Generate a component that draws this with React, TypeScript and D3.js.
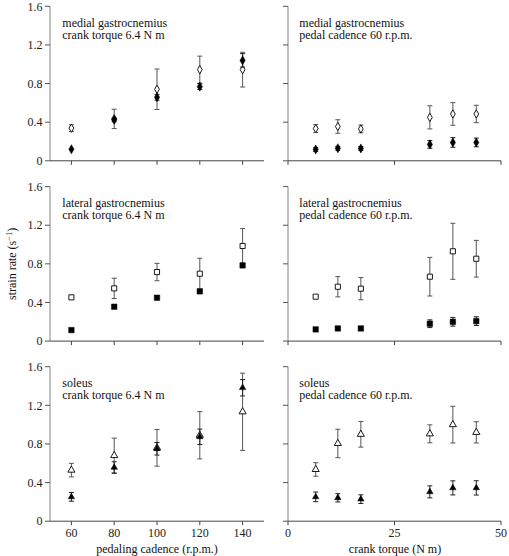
import React from "react";
import * as d3 from "d3";

// cadence panels (x: pedaling cadence, r.p.m.)
const cadence = [60, 80, 100, 120, 140];
// torque panels (x: crank torque, N m)
const torque = [6.5, 11.7, 17.1, 33.3, 38.7, 44.2];

// medial gastrocnemius
const mgCadOpen = [0.338, 0.434, 0.741, 0.944, 0.944];
const mgCadOpenErr = [0.035, 0.1, 0.21, 0.14, 0.18];
const mgCadFill = [0.12, 0.424, 0.658, 0.768, 1.04];
const mgCadFillErr = [0.0, 0.02, 0.03, 0.03, 0.07];
const mgTorOpen = [0.334, 0.355, 0.33, 0.45, 0.485, 0.485];
const mgTorOpenErr = [0.04, 0.07, 0.04, 0.12, 0.117, 0.09];
const mgTorFill = [0.117, 0.13, 0.128, 0.17, 0.19, 0.19];
const mgTorFillErr = [0.02, 0.02, 0.02, 0.04, 0.05, 0.045];

// lateral gastrocnemius
const lgCadOpen = [0.453, 0.546, 0.715, 0.698, 0.985];
const lgCadOpenErr = [0.0, 0.105, 0.09, 0.16, 0.18];
const lgCadFill = [0.114, 0.356, 0.449, 0.515, 0.784];
const lgCadFillErr = [0.0, 0.0, 0.0, 0.0, 0.0];
const lgTorOpen = [0.46, 0.563, 0.543, 0.667, 0.93, 0.853];
const lgTorOpenErr = [0.0, 0.105, 0.115, 0.2, 0.29, 0.19];
const lgTorFill = [0.121, 0.131, 0.131, 0.18, 0.2, 0.207];
const lgTorFillErr = [0.0, 0.01, 0.02, 0.04, 0.045, 0.045];

// soleus
const solCadOpen = [0.529, 0.68, 0.76, 0.89, 1.133];
const solCadOpenErr = [0.07, 0.18, 0.19, 0.245, 0.4];
const solCadFill = [0.252, 0.556, 0.75, 0.874, 1.382];
const solCadFillErr = [0.045, 0.06, 0.065, 0.08, 0.085];
const solTorOpen = [0.536, 0.805, 0.9, 0.905, 1.0, 0.92];
const solTorOpenErr = [0.07, 0.147, 0.133, 0.093, 0.19, 0.11];
const solTorFill = [0.252, 0.242, 0.228, 0.304, 0.345, 0.345];
const solTorFillErr = [0.05, 0.043, 0.045, 0.062, 0.073, 0.074];

const yTicks = [0, 0.4, 0.8, 1.2, 1.6];
const yTickLabels = ["0", "0.4", "0.8", "1.2", "1.6"];
const cadTicks = [60, 80, 100, 120, 140];
const torTicks = [0, 25, 50];

const rowTitles = ["medial gastrocnemius", "lateral gastrocnemius", "soleus"];
const leftSub = "crank torque 6.4 N m";
const rightSub = "pedal cadence 60 r.p.m.";

const FONT = "Liberation Serif, Times New Roman, Times, serif";

const xLeft = d3.scaleLinear().domain([50, 150]).range([50, 264]);
const xRight = d3.scaleLinear().domain([0, 50]).range([288, 501]);
const rowTops = [6.3, 186.6, 366.7];
const panelH = 154.5;

type Series = { vals: number[]; errs: number[]; filled: boolean };

const allSeries: Series[][][] = [
  [
    [
      { vals: mgCadOpen, errs: mgCadOpenErr, filled: false },
      { vals: mgCadFill, errs: mgCadFillErr, filled: true },
    ],
    [
      { vals: mgTorOpen, errs: mgTorOpenErr, filled: false },
      { vals: mgTorFill, errs: mgTorFillErr, filled: true },
    ],
  ],
  [
    [
      { vals: lgCadOpen, errs: lgCadOpenErr, filled: false },
      { vals: lgCadFill, errs: lgCadFillErr, filled: true },
    ],
    [
      { vals: lgTorOpen, errs: lgTorOpenErr, filled: false },
      { vals: lgTorFill, errs: lgTorFillErr, filled: true },
    ],
  ],
  [
    [
      { vals: solCadOpen, errs: solCadOpenErr, filled: false },
      { vals: solCadFill, errs: solCadFillErr, filled: true },
    ],
    [
      { vals: solTorOpen, errs: solTorOpenErr, filled: false },
      { vals: solTorFill, errs: solTorFillErr, filled: true },
    ],
  ],
];

const symbolTypes = [d3.symbolDiamond, d3.symbolSquare, d3.symbolTriangle];
const symbolSizes = [[20, 24], [26, 30], [22, 18]];

function Panel({ row, side }: { row: number; side: "left" | "right" }) {
  const x = side === "left" ? xLeft : xRight;
  const xs = side === "left" ? cadence : torque;
  const top = rowTops[row];
  const y = d3.scaleLinear().domain([0, 1.6]).range([top + panelH, top]);
  const y0 = y(0);
  const x0 = x.range()[0];
  const x1 = x.range()[1];
  const series = allSeries[row][side === "left" ? 0 : 1];
  const xticks = side === "left" ? cadTicks : torTicks;
  const isBottom = row === 2;
  const sub = side === "left" ? leftSub : rightSub;
  const tx = side === "left" ? 62.3 : 299.3;

  return (
    <g>
      <line x1={x0} x2={x0} y1={y(1.6)} y2={y0} stroke="#999" strokeWidth={1.2} />
      {yTicks.map((t, i) => (
        <g key={"yt" + i}>
          <line x1={x0 - 5} x2={x0} y1={y(t)} y2={y(t)} stroke="#555" strokeWidth={1} />
          {side === "left" && (
            <text
              x={42.5}
              y={y(t)}
              dy="0.35em"
              textAnchor="end"
              fontSize={12}
              fontFamily={FONT}
              fill="#222"
            >
              {yTickLabels[i]}
            </text>
          )}
        </g>
      ))}
      <line x1={x0} x2={x1} y1={y0} y2={y0} stroke="#444" strokeWidth={1} />
      {xticks.map((t) => (
        <g key={"xt" + t}>
          <line x1={x(t)} x2={x(t)} y1={y0} y2={y0 + 4} stroke="#444" strokeWidth={1} />
          {isBottom && (
            <text
              x={x(t)}
              y={y0 + 16}
              textAnchor="middle"
              fontSize={12}
              fontFamily={FONT}
              fill="#222"
            >
              {t}
            </text>
          )}
        </g>
      ))}
      <text x={tx} y={top + 20.3} fontSize={12} fontFamily={FONT} fill="#111">
        {rowTitles[row]}
      </text>
      <text x={tx} y={top + 32.3} fontSize={12} fontFamily={FONT} fill="#111">
        {sub}
      </text>
      {series.map((s, si) => {
        const sym = d3
          .symbol()
          .type(symbolTypes[row])
          .size(symbolSizes[row][s.filled ? 1 : 0]);
        return (
          <g key={"s" + si}>
            {s.vals.map((v, i) => {
              const cx = x(xs[i]);
              const e = s.errs[i];
              return (
                <g key={i}>
                  {e > 0 && (
                    <g stroke={s.filled ? "#222" : "#555"} strokeWidth={1}>
                      <line x1={cx} x2={cx} y1={y(v + e)} y2={y(v - e)} />
                      <line x1={cx - 2.5} x2={cx + 2.5} y1={y(v + e)} y2={y(v + e)} />
                      <line x1={cx - 2.5} x2={cx + 2.5} y1={y(v - e)} y2={y(v - e)} />
                    </g>
                  )}
                  <path
                    d={sym() || ""}
                    transform={`translate(${cx},${y(v)})`}
                    fill={s.filled ? "#000" : "#fff"}
                    stroke="#000"
                    strokeWidth={s.filled ? 0.5 : 0.9}
                  />
                </g>
              );
            })}
          </g>
        );
      })}
    </g>
  );
}

export default function App() {
  const midY = rowTops[1] + panelH / 2;
  return (
    <div style={{ position: "absolute", left: 0, top: 0 }}>
      <svg width={509} height={556} style={{ display: "block", background: "#fff" }}>
        {[0, 1, 2].map((r) => (
          <g key={r}>
            <Panel row={r} side="left" />
            <Panel row={r} side="right" />
          </g>
        ))}
        <text
          transform={`translate(15.5,${midY}) rotate(-90)`}
          textAnchor="middle"
          fontSize={12}
          fontFamily={FONT}
          fill="#111"
        >
          strain rate (s
          <tspan dy={-4} fontSize={8.5}>
            −1
          </tspan>
          <tspan dy={4}>)</tspan>
        </text>
        <text x={157} y={552.5} textAnchor="middle" fontSize={12} fontFamily={FONT} fill="#111">
          pedaling cadence (r.p.m.)
        </text>
        <text x={395} y={552.5} textAnchor="middle" fontSize={12} fontFamily={FONT} fill="#111">
          crank torque (N m)
        </text>
      </svg>
    </div>
  );
}
